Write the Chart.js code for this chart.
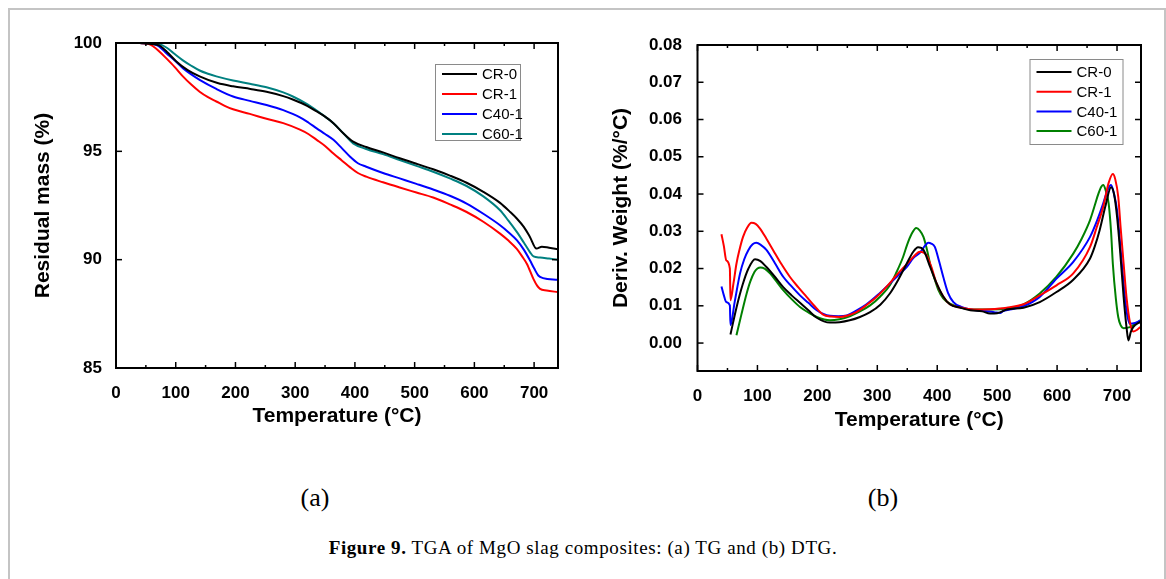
<!DOCTYPE html>
<html lang="en">
<head>
<meta charset="UTF-8">
<title>TGA of MgO slag composites</title>
<script src="https://cdn.jsdelivr.net/npm/chart.js"></script>
<style>
  body, html {
    margin: 0;
    padding: 0;
    background: #fff;
    width: 1166px;
    height: 579px;
    overflow: hidden;
    position: relative;
  }
  .frame {
    position: absolute;
    left: 8px;
    top: 8px;
    width: 1158px;
    height: 620px;
    box-sizing: border-box;
    border: 2px solid #c4c4c4;
  }
  canvas {
    position: absolute;
  }
  #tg-chart { left: 0; top: 20px; }
  #dtg-chart { left: 580px; top: 20px; }
  .panel-label {
    position: absolute;
    top: 483px;
    font-family: 'Liberation Serif', serif;
    font-size: 26px;
    line-height: 30px;
    width: 60px;
    text-align: center;
  }
  .caption {
    position: absolute;
    left: 0;
    width: 1166px;
    top: 538px;
    text-align: center;
    font-family: 'Liberation Serif', serif;
    font-size: 19px;
    letter-spacing: 0.6px;
    line-height: 20px;
  }
</style>
</head>
<body>
<div class="frame"></div>
<canvas id="tg-chart" width="580" height="440"></canvas>
<canvas id="dtg-chart" width="586" height="440"></canvas>
<div class="panel-label" style="left:285px">(a)</div>
<div class="panel-label" style="left:853px">(b)</div>
<div class="caption"><b>Figure 9.</b> TGA of MgO slag composites: (a) TG and (b) DTG.</div>

<script>
// ---- data ----
const seriesNames = ['CR-0', 'CR-1', 'C40-1', 'C60-1'];
const tgColors = ['#000000', '#ff0000', '#0000ff', '#008080'];
const dtgColors = ['#000000', '#ff0000', '#0000ff', '#008000'];

const tempTicks = [0, 100, 200, 300, 400, 500, 600, 700];
const tempMinor = [50, 150, 250, 350, 450, 550, 650];
const massTicks = [85, 90, 95, 100];
const dtgTicks = [0, 0.01, 0.02, 0.03, 0.04, 0.05, 0.06, 0.07, 0.08];

// (a) TG : residual mass (%)
const tgTempCR0 = [40, 60, 73, 85, 101, 120, 140, 170, 196, 225, 252, 280, 297, 320, 336, 350, 364, 380, 397, 419, 447, 475, 503, 531, 560, 587, 615, 643, 660, 671, 683, 693, 704, 713, 725, 740];
const tgMassCR0 = [100, 99.95, 99.88, 99.6, 99.15, 98.75, 98.46, 98.15, 98.0, 97.88, 97.75, 97.55, 97.38, 97.1, 96.84, 96.6, 96.3, 95.85, 95.45, 95.2, 94.95, 94.68, 94.43, 94.17, 93.87, 93.55, 93.13, 92.62, 92.2, 91.9, 91.5, 91.05, 90.51, 90.6, 90.55, 90.48];

const tgTempCR1 = [40, 55, 62, 73, 84, 98, 112, 126, 140, 154, 168, 182, 196, 224, 252, 280, 308, 322, 336, 350, 364, 378, 392, 405, 419, 447, 475, 503, 531, 559, 587, 615, 643, 657, 671, 680, 688, 699, 705, 710, 721, 740];
const tgMassCR1 = [100, 99.95, 99.85, 99.6, 99.3, 98.9, 98.46, 98.08, 97.75, 97.5, 97.3, 97.1, 96.94, 96.73, 96.5, 96.3, 96.0, 95.8, 95.53, 95.25, 94.9, 94.58, 94.26, 94.0, 93.83, 93.57, 93.33, 93.1, 92.87, 92.55, 92.2, 91.75, 91.2, 90.88, 90.5, 90.15, 89.8, 89.1, 88.8, 88.65, 88.58, 88.5];

const tgTempC40 = [40, 55, 68, 76, 84, 98, 112, 126, 140, 168, 196, 224, 252, 280, 308, 322, 336, 350, 364, 378, 392, 405, 419, 447, 475, 503, 531, 559, 587, 615, 643, 657, 671, 683, 693, 700, 707, 715, 740];
const tgMassC40 = [100, 99.97, 99.9, 99.75, 99.54, 99.2, 98.84, 98.55, 98.3, 97.88, 97.53, 97.33, 97.14, 96.9, 96.57, 96.33, 96.06, 95.8, 95.53, 95.15, 94.75, 94.45, 94.29, 94.0, 93.75, 93.5, 93.24, 92.95, 92.59, 92.12, 91.59, 91.27, 90.9, 90.45, 89.97, 89.6, 89.27, 89.15, 89.07];

const tgTempC60 = [45, 60, 73, 85, 96, 112, 126, 140, 154, 168, 196, 224, 252, 280, 297, 320, 336, 350, 364, 380, 397, 419, 447, 475, 503, 531, 559, 587, 615, 643, 657, 671, 683, 693, 699, 710, 725, 740];
const tgMassC60 = [100, 100, 99.95, 99.78, 99.54, 99.2, 98.95, 98.73, 98.58, 98.46, 98.27, 98.12, 97.96, 97.72, 97.52, 97.18, 96.88, 96.6, 96.3, 95.85, 95.37, 95.11, 94.87, 94.6, 94.33, 94.06, 93.75, 93.4, 92.92, 92.28, 91.8, 91.28, 90.78, 90.35, 90.15, 90.1, 90.05, 90.0];

// (b) DTG : deriv. weight (%/°C)
const dtgTempCR0 = [55, 65, 75, 85, 96, 105, 115, 129, 143, 157, 171, 185, 199, 221, 237, 254, 271, 288, 305, 321, 335, 349, 360, 368, 377, 388, 399, 410, 421, 438, 455, 475, 488, 500, 516, 544, 571, 599, 627, 655, 663, 671, 681, 690, 695, 700, 705, 711, 716, 719, 723, 727, 739];
const dtgRateCR0 = [0.0023, 0.0095, 0.0155, 0.02, 0.0225, 0.022, 0.0204, 0.0178, 0.015, 0.0128, 0.0108, 0.0088, 0.0068, 0.0055, 0.0056, 0.0061, 0.007, 0.0083, 0.0103, 0.0133, 0.017, 0.0213, 0.0245, 0.0257, 0.025, 0.0205, 0.016, 0.0125, 0.0104, 0.0095, 0.0088, 0.0085, 0.0079, 0.008, 0.009, 0.0095, 0.011, 0.0137, 0.017, 0.0227, 0.026, 0.0303, 0.037, 0.0418, 0.04, 0.034, 0.025, 0.0124, 0.004, 0.0007, 0.003, 0.0043, 0.0057];

const dtgTempCR1 = [40, 44, 48, 54, 55, 60, 65, 70, 76, 83, 90, 97, 104, 115, 126, 140, 154, 168, 182, 196, 209, 223, 237, 251, 265, 282, 299, 316, 332, 344, 355, 364, 371, 382, 390, 399, 410, 421, 440, 460, 488, 516, 544, 571, 599, 627, 655, 666, 677, 686, 693, 697, 702, 706, 711, 716, 722, 727, 733, 739];
const dtgRateCR1 = [0.0292, 0.026, 0.0222, 0.02, 0.0115, 0.016, 0.0213, 0.025, 0.0285, 0.031, 0.0323, 0.032, 0.0308, 0.028, 0.025, 0.0212, 0.0178, 0.015, 0.0124, 0.0098, 0.0077, 0.0071, 0.007, 0.0074, 0.0083, 0.0102, 0.0124, 0.0152, 0.0182, 0.0203, 0.0222, 0.0238, 0.0245, 0.0236, 0.0205, 0.016, 0.0125, 0.0104, 0.0095, 0.009, 0.0091, 0.0095, 0.0104, 0.0128, 0.0155, 0.0187, 0.0258, 0.031, 0.0366, 0.043, 0.0454, 0.044, 0.0393, 0.031, 0.0213, 0.012, 0.0052, 0.0031, 0.0035, 0.0043];

const dtgTempC40 = [40, 44, 48, 54, 55, 62, 71, 78, 85, 92, 98, 106, 115, 129, 143, 157, 171, 185, 199, 210, 221, 235, 249, 265, 282, 300, 321, 335, 349, 360, 371, 380, 385, 390, 396, 403, 410, 418, 427, 440, 455, 477, 495, 505, 510, 521, 544, 571, 599, 627, 655, 667, 677, 684, 690, 695, 700, 705, 711, 716, 721, 730, 739];
const dtgRateC40 = [0.0152, 0.0128, 0.011, 0.0101, 0.0048, 0.011, 0.0187, 0.0225, 0.025, 0.0265, 0.0269, 0.0263, 0.025, 0.0215, 0.0178, 0.0152, 0.0128, 0.0108, 0.0088, 0.0078, 0.0073, 0.0072, 0.0074, 0.0087, 0.0104, 0.0128, 0.016, 0.0182, 0.0204, 0.0228, 0.0242, 0.0262, 0.0269, 0.0267, 0.0258, 0.022, 0.0178, 0.0135, 0.011, 0.0097, 0.009, 0.0086, 0.0083, 0.0081, 0.0086, 0.009, 0.0099, 0.0124, 0.0173, 0.0218, 0.0285, 0.033, 0.0375, 0.041, 0.0424, 0.04, 0.0357, 0.027, 0.016, 0.0085, 0.0052, 0.0054, 0.0061];

const dtgTempC60 = [65, 73, 82, 88, 95, 100, 105, 112, 121, 132, 143, 157, 171, 185, 199, 221, 237, 254, 271, 288, 305, 321, 332, 343, 350, 357, 365, 371, 377, 383, 388, 395, 402, 410, 421, 438, 455, 488, 521, 544, 571, 599, 627, 641, 655, 662, 669, 674, 677, 681, 686, 690, 693, 698, 702, 706, 711, 720, 727, 739];
const dtgRateC60 = [0.0021, 0.0075, 0.0133, 0.0165, 0.0191, 0.02, 0.0203, 0.02, 0.0187, 0.0165, 0.0142, 0.0118, 0.0097, 0.0082, 0.007, 0.0061, 0.0064, 0.0072, 0.0085, 0.0101, 0.0125, 0.0155, 0.019, 0.0231, 0.0265, 0.0292, 0.0309, 0.0302, 0.0285, 0.025, 0.0213, 0.0175, 0.0142, 0.012, 0.0106, 0.0096, 0.009, 0.009, 0.0094, 0.0104, 0.0133, 0.0178, 0.024, 0.028, 0.033, 0.0365, 0.0401, 0.042, 0.0424, 0.041, 0.0375, 0.03, 0.0213, 0.012, 0.007, 0.0048, 0.004, 0.0042, 0.0048, 0.0061];

const tgSeries = [[tgTempCR0, tgMassCR0], [tgTempCR1, tgMassCR1], [tgTempC40, tgMassC40], [tgTempC60, tgMassC60]];
const dtgSeries = [[dtgTempCR0, dtgRateCR0], [dtgTempCR1, dtgRateCR1], [dtgTempC40, dtgRateC40], [dtgTempC60, dtgRateC60]];

// ---- helpers ----
const SANS = "'Liberation Sans', Arial, sans-serif";

function toPoints(xs, ys) {
  return xs.map((x, i) => ({ x: x, y: ys[i] }));
}

function makeDatasets(series, colors) {
  return series.map((s, i) => ({
    label: seriesNames[i],
    data: toPoints(s[0], s[1]),
    borderColor: colors[i],
    borderWidth: 2,
    pointRadius: 0,
    cubicInterpolationMode: 'monotone',
    fill: false
  }));
}

// boxed axes with inward ticks on all four sides
const framePlugin = {
  id: 'frame',
  afterDatasetsDraw(chart, args, opts) {
    const { ctx, chartArea: a, scales: { x, y } } = chart;
    ctx.save();
    ctx.strokeStyle = '#000';
    ctx.lineCap = 'butt';
    function seg(x1, y1, x2, y2) {
      ctx.beginPath(); ctx.moveTo(x1, y1); ctx.lineTo(x2, y2); ctx.stroke();
    }
    ctx.lineWidth = 1.5;
    opts.xMajor.forEach(v => {
      const px = x.getPixelForValue(v);
      seg(px, a.bottom, px, a.bottom - 6);
      seg(px, a.top, px, a.top + 6);
    });
    opts.xMinor.forEach(v => {
      const px = x.getPixelForValue(v);
      seg(px, a.bottom, px, a.bottom - 3);
      seg(px, a.top, px, a.top + 3);
    });
    opts.yMajor.forEach(v => {
      const py = y.getPixelForValue(v);
      seg(a.left, py, a.left + 6, py);
      seg(a.right, py, a.right - 6, py);
    });
    ctx.lineWidth = 2;
    ctx.strokeRect(a.left, a.top, a.right - a.left, a.bottom - a.top);
    ctx.restore();
  }
};

// legend box drawn inside the plot
const boxLegend = {
  id: 'boxLegend',
  afterDraw(chart, args, opts) {
    const { ctx, chartArea: a } = chart;
    const bx = a.left + opts.x, by = a.top + opts.y;
    ctx.save();
    ctx.fillStyle = '#fff';
    ctx.fillRect(bx, by, opts.w, opts.h);
    ctx.strokeStyle = '#8a8a8a';
    ctx.lineWidth = 1;
    ctx.strokeRect(bx + 0.5, by + 0.5, opts.w, opts.h);
    ctx.font = '15px ' + SANS;
    ctx.textBaseline = 'middle';
    chart.data.datasets.forEach((ds, i) => {
      const cy = by + opts.first + i * opts.gap;
      ctx.strokeStyle = ds.borderColor;
      ctx.lineWidth = 2;
      ctx.beginPath();
      ctx.moveTo(bx + 7, cy);
      ctx.lineTo(bx + 42, cy);
      ctx.stroke();
      ctx.fillStyle = '#000';
      ctx.fillText(ds.label, bx + 47, cy + 1);
    });
    ctx.restore();
  }
};

function makeChart(id, cfg) {
  return new Chart(document.getElementById(id), {
    type: 'line',
    data: { datasets: makeDatasets(cfg.series, cfg.colors) },
    plugins: [framePlugin, boxLegend],
    options: {
      responsive: false,
      animation: false,
      devicePixelRatio: 1,
      layout: { padding: cfg.padding },
      plugins: {
        legend: { display: false },
        tooltip: { enabled: false },
        frame: { xMajor: tempTicks, xMinor: tempMinor, yMajor: cfg.yTicks },
        boxLegend: cfg.legend
      },
      scales: {
        x: {
          type: 'linear',
          min: 0,
          max: 740,
          grid: { display: false },
          border: { display: false },
          afterBuildTicks: s => { s.ticks = tempTicks.map(v => ({ value: v })); },
          afterFit: s => { s.height = cfg.xHeight; },
          ticks: {
            color: '#000',
            padding: 7,
            maxRotation: 0,
            font: { family: SANS, size: cfg.tickSize, weight: 'bold' }
          },
          title: {
            display: true,
            text: 'Temperature (°C)',
            color: '#000',
            padding: { top: 0, bottom: cfg.xTitlePad },
            font: { family: SANS, size: 21, weight: 'bold' }
          }
        },
        y: {
          type: 'linear',
          min: cfg.yMin,
          max: cfg.yMax,
          grid: { display: false },
          border: { display: false },
          afterBuildTicks: s => { s.ticks = cfg.yTicks.map(v => ({ value: v })); },
          afterFit: s => { s.width = cfg.yWidth; },
          ticks: {
            color: '#000',
            padding: cfg.yTickPad,
            font: { family: SANS, size: cfg.tickSize, weight: 'bold' },
            callback: cfg.yFormat
          },
          title: {
            display: true,
            text: cfg.yTitle,
            color: '#000',
            padding: { top: cfg.yTitlePad, bottom: 0 },
            font: { family: SANS, size: 21, weight: 'bold' }
          }
        }
      }
    }
  });
}

makeChart('tg-chart', {
  series: tgSeries,
  colors: tgColors,
  yMin: 85,
  yMax: 100,
  yTicks: massTicks,
  yFormat: v => String(v),
  yTitle: 'Residual mass (%)',
  padding: { top: 23, right: 22, left: 0, bottom: 0 },
  yWidth: 116,
  xHeight: 92,
  tickSize: 17,
  yTickPad: 6,
  yTitlePad: 31,
  xTitlePad: 31,
  legend: { x: 319, y: 21, w: 85, h: 76, first: 10, gap: 20 }
});

makeChart('dtg-chart', {
  series: dtgSeries,
  colors: dtgColors,
  yMin: -0.0075,
  yMax: 0.08,
  yTicks: dtgTicks,
  yFormat: v => v.toFixed(2),
  yTitle: 'Deriv. Weight (%/°C)',
  padding: { top: 25, right: 25, left: 0, bottom: 0 },
  yWidth: 117.5,
  xHeight: 89,
  tickSize: 17,
  yTickPad: 7.5,
  yTitlePad: 29,
  xTitlePad: 27,
  legend: { x: 332, y: 14, w: 93, h: 85, first: 13, gap: 19.7 }
});
</script>
</body>
</html>
